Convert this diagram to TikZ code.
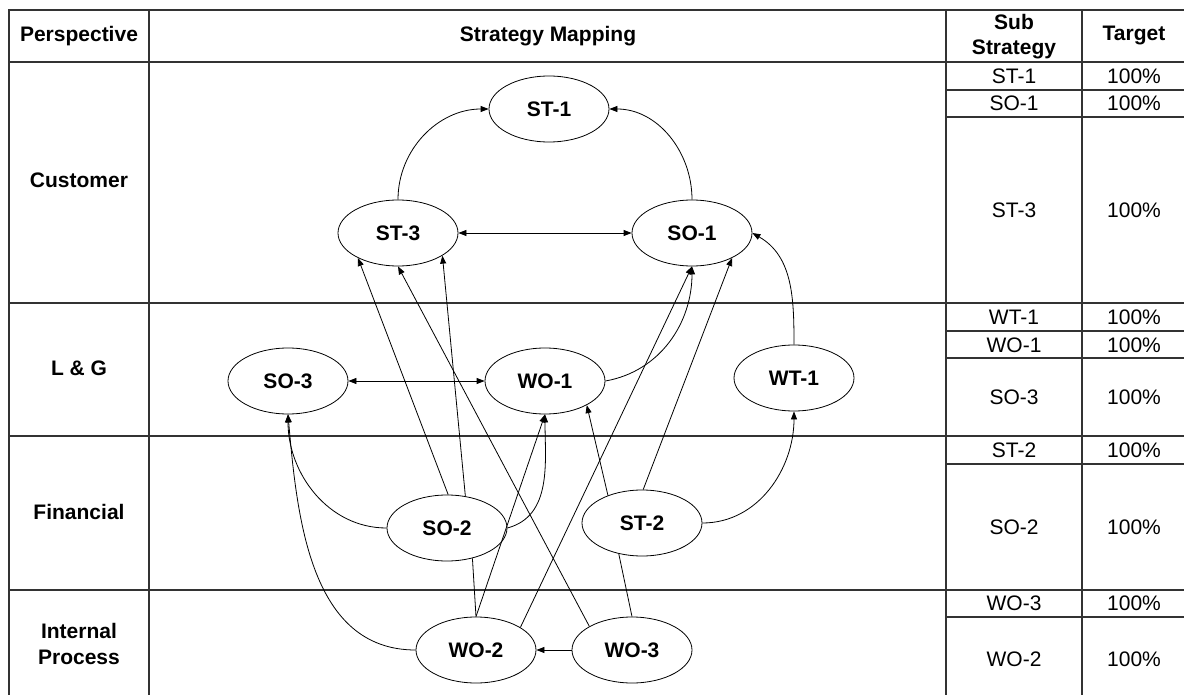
\documentclass[tikz,border=0pt]{standalone}
\usepackage{fontspec}
\setmainfont{Liberation Sans}
\usetikzlibrary{arrows.meta,shapes.geometric}
\begin{document}
\begin{tikzpicture}[x=1pt,y=1pt,
  grid/.style={line width=1.3pt, draw=black!80},
  goal/.style={ellipse, draw, line width=0.8pt, minimum width=120pt, minimum height=66pt,
    inner sep=0pt, font=\fontsize{21}{24}\selectfont\bfseries},
  link/.style={line width=0.8pt, -{Triangle[length=8pt,width=6pt]}},
  both/.style={line width=0.8pt, {Triangle[length=8pt,width=6pt]}-{Triangle[length=8pt,width=6pt]}},
  plain/.style={line width=0.8pt},
  head/.style={inner sep=0pt, align=center, font=\fontsize{21}{25.5}\selectfont\bfseries},
  cell/.style={inner sep=0pt, font=\fontsize{21}{24}\selectfont}]
\useasboundingbox (0,0) rectangle (1184,-695);

% table grid
\draw[grid] (9,-695) -- (9,-10) -- (1184,-10);
\foreach \x in {149,946,1082} \draw[grid] (\x,-10) -- (\x,-695);
\foreach \y in {62,303,436,590} \draw[grid] (9,-\y) -- (1184,-\y);
\foreach \y in {90,117,331,358,464,617} \draw[grid] (946,-\y) -- (1184,-\y);

% headers
\node[head] (hPersp) at (79,-36) {Perspective};
\node[head] (hMap) at (548,-36) {Strategy Mapping};
\node[head] (hSub) at (1014,-36.5) {Sub\\Strategy};
\node[head] (hTarget) at (1134,-36) {Target};

% perspectives
\node[head] (pCust) at (79,-180) {Customer};
\node[head] (pLG) at (79,-368) {L \& G};
\node[head] (pFin) at (79,-512) {Financial};
\node[head] (pInt) at (79,-644) {Internal\\Process};

% sub strategies and targets
\foreach \n/\t/\y in {a/ST-1/76, b/SO-1/103, c/ST-3/210, d/WT-1/317, e/WO-1/345,
    f/SO-3/397, g/ST-2/450, h/SO-2/527, i/WO-3/603, j/WO-2/659} {
  \node[cell] (sub\n) at (1014,-\y) {\t};
  \node[cell] (tgt\n) at (1134,-\y) {100\%};
}

% strategy nodes
\node[goal] (st1) at (549,-109) {ST-1};
\node[goal] (st3) at (398,-233) {ST-3};
\node[goal] (so1) at (692,-233) {SO-1};
\node[goal] (so3) at (288,-381) {SO-3};
\node[goal] (wo1) at (545,-381) {WO-1};
\node[goal] (wt1) at (794,-378) {WT-1};
\node[goal] (so2) at (447,-528) {SO-2};
\node[goal] (st2) at (642,-523) {ST-2};
\node[goal] (wo2) at (476,-650) {WO-2};
\node[goal] (wo3) at (632,-650) {WO-3};

% connectors
\draw[link] (st3.north) to[out=90,in=180] (st1.west);
\draw[link] (so1.north) to[out=90,in=0] (st1.east);
\draw[both] (st3) -- (so1);
\draw[both] (so3) -- (wo1);
\draw[link] (wo1.east) to[out=10,in=-90] (so1.south);
\draw[link] (wt1.north) to[out=90,in=-30] (so1.east);
\draw[link] (st2.east) to[out=0,in=-90] (wt1.south);
\draw[link] (st2.141) -- (wo1.-30);
\draw[link] (st2.88) -- (so1.-32);
\draw[link] (wo2.27) -- (so1.south);
\draw[link] (wo2.north) -- (wo1.south);
\draw[link] (so2.east) to[out=15,in=-90] (wo1.south);
\draw[plain] (so2.-50) -- (wo2.north);
\draw[plain] (st2.-127) -- (wo3.north);
\draw[link] (so2.west) to[out=180,in=-90] (so3.south);
\draw[link] (wo2.west) to[out=180,in=-85] (so3.south);
\draw[link] (wo3) -- (wo2);
\draw[link] (wo3.151) -- (st3.south);
\draw[link] (so2.88) -- (st3.-148);
\draw[link] (so2.60) -- (st3.-27);
\end{tikzpicture}
\end{document}
